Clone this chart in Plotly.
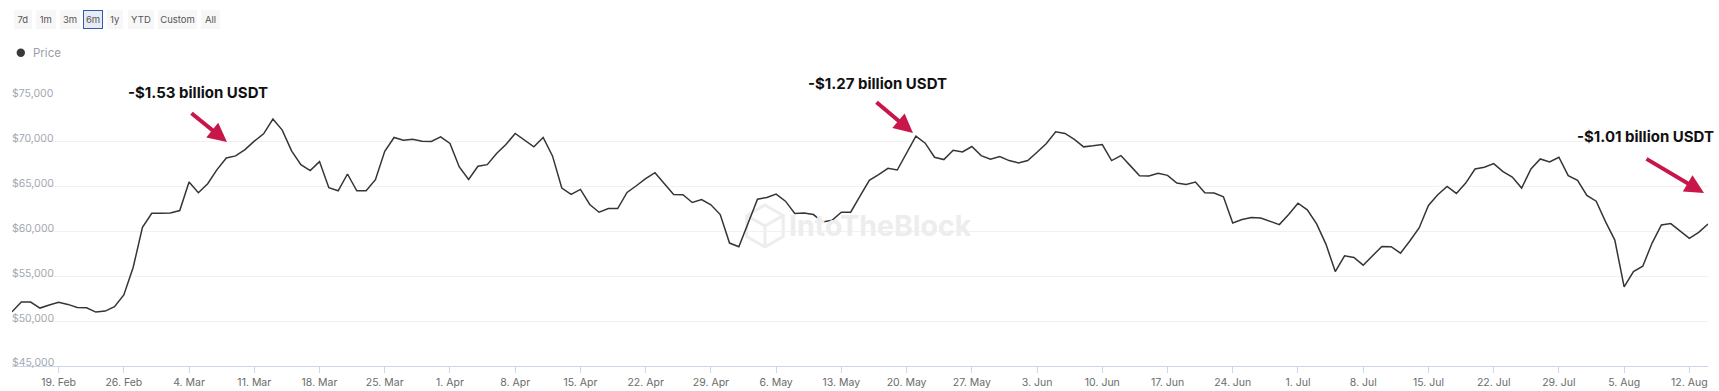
import math
import pandas as pd
import plotly.graph_objects as go

# ---------------- data ----------------
start_date = "2024-02-14"

price_feb_apr = [51048, 52132, 52132, 51460, 51796, 52095, 51870, 51534, 51497, 51011,
                 51123, 51609, 52917, 55983, 60468, 62038, 62038, 62075, 62337, 65514,
                 64318, 65328, 66898, 68206, 68430, 69140, 70075, 70897, 72542, 71308,
                 68991, 67458, 66785, 67795, 64879, 64543, 66411, 64543, 64543, 65776,
                 68953, 70486, 70187, 70299, 70075, 70037, 70561, 69813, 67197, 65813,
                 67271, 67458, 68692, 69701, 70935, 70187, 69439, 70486, 68430, 64842,
                 64131, 64692]
price_apr_jun = [63010, 62150, 62562, 62562, 64356, 65103, 65888, 66561, 65328, 64131,
                 64094, 63234, 63571, 62973, 61888, 58711, 58300, 60917, 63608, 63795,
                 64169, 63384, 62001, 62075, 61888, 61066, 61253, 62150, 62150, 63944,
                 65701, 66337, 67047, 66860, 68692, 70635, 69850, 68280, 68019, 69066,
                 68879, 69477, 68467, 68056, 68355, 67907, 67645, 67907, 68841, 69813,
                 71121, 70935, 70262, 69439, 69551, 69701, 67907, 68467, 67346, 66225,
                 66187]
price_jun_aug = [66486, 66262, 65402, 65253, 65514, 64318, 64281, 63870, 60954, 61328,
                 61552, 61515, 61104, 60767, 61888, 63159, 62412, 60842, 58599, 55534,
                 57291, 57104, 56244, 57291, 58338, 58300, 57590, 58935, 60393, 62898,
                 64094, 65029, 64243, 65402, 66972, 67159, 67570, 66673, 66075, 64842,
                 66972, 68094, 67757, 68280, 66225, 65701, 64019, 63384, 61104, 59048,
                 53815, 55534, 56132, 58711, 60730, 60879, 60020, 59234, 59907, 60842]

prices = price_feb_apr + price_apr_jun + price_jun_aug
dates = pd.date_range(start_date, periods=len(prices), freq="D")

y_ticks = [45000, 50000, 55000, 60000, 65000, 70000, 75000]
y_tick_labels = ["$45,000", "$50,000", "$55,000", "$60,000", "$65,000", "$70,000", "$75,000"]
range_buttons = ["7d", "1m", "3m", "6m", "1y", "YTD", "Custom", "All"]
active_button = "6m"
series_name = "Price"
callout_texts = ["-$1.53 billion USDT", "-$1.27 billion USDT", "-$1.01 billion USDT"]
watermark = "IntoTheBlock"

# ---------------- layout geometry (pixels) ----------------
W, H = 1719, 391
L, R, T, B = 12, 11, 97, 25
PW, PH = W - L - R, H - T - B


def px(x):
    return (x - L) / PW


def py(y):
    return (H - B - y) / PH


FONT = "Inter, Roboto, 'Noto Sans', sans-serif"

fig = go.Figure()
fig.add_trace(go.Scatter(
    x=dates, y=prices, mode="lines", name=series_name,
    line=dict(color="#353535", width=1.5), showlegend=False,
))

annotations = []
shapes = []

# range selector buttons
btn_boxes = [(14.3, 32), (36, 55.7), (60, 80), (83, 103), (107, 123),
             (128, 154), (158, 197), (201, 220)]
for label, (x0, x1) in zip(range_buttons, btn_boxes):
    active = label == active_button
    annotations.append(dict(
        text=label, xref="paper", yref="paper", x=px(x0), y=py(10),
        xanchor="left", yanchor="top", showarrow=False,
        width=x1 - x0 - 2, height=17, align="center", valign="middle",
        bgcolor="#e6ebf5" if active else "#f7f7f7",
        bordercolor="#335cad" if active else "#f7f7f7",
        borderwidth=1, borderpad=0,
        font=dict(family=FONT, size=9.5, color="#555555"),
    ))

# legend
shapes.append(dict(type="circle", xref="paper", yref="paper",
                   x0=px(16.6), x1=px(25), y0=py(57), y1=py(48.6),
                   fillcolor="#3a3a3a", line=dict(width=0)))
annotations.append(dict(text=series_name, xref="paper", yref="paper",
                        x=px(30.5), y=py(53), xanchor="left", yanchor="middle",
                        showarrow=False,
                        font=dict(family=FONT, size=11.5, color="#9aa0a8")))

# callouts
text_pos = [(126, 92), (806, 83), (1575, 136.5)]
arrow_pos = [((190, 112), (227, 142)), ((875, 101), (913, 133)),
             ((1645, 158), (1704, 193))]
for txt, (tx, ty), ((ax0, ay0), (ax1, ay1)) in zip(callout_texts, text_pos, arrow_pos):
    annotations.append(dict(text="<b>" + txt + "</b>", xref="paper", yref="paper",
                            x=px(tx), y=py(ty), xanchor="left", yanchor="middle",
                            showarrow=False,
                            font=dict(family=FONT, size=15, color="#111111")))
    annotations.append(dict(text="", xref="paper", yref="paper",
                            x=px(ax1), y=py(ay1), ax=ax0 - ax1, ay=ay0 - ay1,
                            showarrow=True, arrowhead=2, arrowsize=0.95,
                            arrowwidth=4, arrowcolor="#c8154a", standoff=0))

# watermark
annotations.append(dict(text="<b>" + watermark + "</b>", xref="paper", yref="paper",
                        x=px(787), y=py(225), xanchor="left", yanchor="middle",
                        showarrow=False,
                        font=dict(family=FONT, size=28.5, color="#ededed")))
cx, cy, rr = 765, 226, 21
hexpts = [(cx + rr * math.cos(math.radians(a)), cy - rr * math.sin(math.radians(a)))
          for a in (90, 30, -30, -90, -150, 150)]
path = "M " + " L ".join(f"{px(x):.5f},{py(y):.5f}" for x, y in hexpts) + " Z"
shapes.append(dict(type="path", xref="paper", yref="paper", path=path,
                   line=dict(color="#ededed", width=3), layer="below"))
for b in (hexpts[3], hexpts[1], hexpts[5]):
    shapes.append(dict(type="line", xref="paper", yref="paper",
                       x0=px(cx), y0=py(cy), x1=px(b[0]), y1=py(b[1]),
                       line=dict(color="#ededed", width=3), layer="below"))

fig.update_layout(
    width=W, height=H,
    margin=dict(l=L, r=R, t=T, b=B, pad=0, autoexpand=False),
    paper_bgcolor="white", plot_bgcolor="white",
    font=dict(family=FONT),
    showlegend=False,
    annotations=annotations,
    shapes=shapes,
    xaxis=dict(
        type="date", range=[dates[0], dates[-1]], automargin=False,
        tick0="2024-02-19", dtick=7 * 86400000, tickformat="%-d. %b",
        ticks="outside", ticklen=6, tickcolor="#ccd6eb", tickwidth=1,
        showline=True, linecolor="#ccd6eb", linewidth=1,
        showgrid=False, zeroline=False,
        tickfont=dict(family=FONT, size=10.5, color="#6b6b6b"),
    ),
    yaxis=dict(
        range=[45000, 75000], tickvals=y_ticks, ticktext=y_tick_labels,
        automargin=False,
        ticklabelposition="inside top", ticklabeloverflow="allow", ticks="",
        ticklabelshift=4, ticklabelstandoff=-3,
        showgrid=True, gridcolor="#f1f1f1", gridwidth=1,
        zeroline=False, showline=False,
        tickfont=dict(family=FONT, size=10.5, color="#a3a8b0"),
    ),
)

fig.write_html(
    "out.html",
    config={"displayModeBar": False},
    post_script="document.body.style.margin='0';document.body.style.overflow='hidden';",
)
